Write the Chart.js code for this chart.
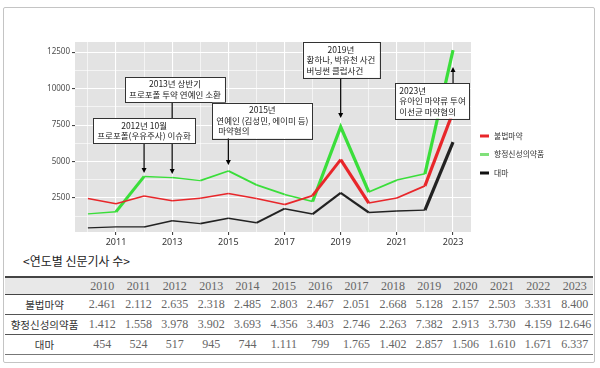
<!DOCTYPE html>
<html>
<head>
<meta charset="utf-8">
<script src="https://cdn.jsdelivr.net/npm/chart.js@4"></script>
<style>
  body { margin: 0; background: #fff; width: 600px; height: 368px; overflow: hidden; position: relative; }
  #frame { position: absolute; left: 3px; top: 7px; width: 590px; height: 354px; border: 1px solid #c4c4c4; border-radius: 2px; }
  #chart { position: absolute; left: 0; top: 0; }
  #title { position: absolute; left: 23px; top: 252px; font: 12px "Noto Sans CJK KR"; color: #222; }
  #tbl { position: absolute; left: 5px; top: 276px; width: 588px; border-collapse: collapse; table-layout: fixed; }
  #tbl td { text-align: center; padding: 0; font: 12px "Liberation Serif", "Noto Sans CJK KR"; color: #666; height: 19px; border-bottom: 1px solid #555; }
  #tbl tr.head td { background-color: #e8e8e8; border-top: 2px solid #444; border-bottom: 1.5px solid #444; height: 16px; }
  #tbl td.name { font: 10.5px "Noto Sans CJK KR"; color: #333; width: 79px; }
  #tbl tr:last-child td { border-bottom: 1px solid #777; }
</style>
</head>
<body>
<div id="frame"></div>
<canvas id="chart" width="600" height="252"></canvas>
<div id="title">&lt;연도별 신문기사 수&gt;</div>
<table id="tbl"></table>
<script>
const years = [2010, 2011, 2012, 2013, 2014, 2015, 2016, 2017, 2018, 2019, 2020, 2021, 2022, 2023];
const seriesNames = ['불법마약', '향정신성의약품', '대마'];
const illegalDrugs = [2461, 2112, 2635, 2318, 2485, 2803, 2467, 2051, 2668, 5128, 2157, 2503, 3331, 8400];
const psychotropics = [1412, 1558, 3978, 3902, 3693, 4356, 3403, 2746, 2263, 7382, 2913, 3730, 4159, 12646];
const cannabis = [454, 524, 517, 945, 744, 1111, 799, 1765, 1402, 2857, 1506, 1610, 1671, 6337];
const yTicks = [1250, 2500, 3750, 5000, 6250, 7500, 8750, 10000, 11250, 12500];

// 주석 박스 (연도, 값 기준)
const notes = [
  { lines: ['2012년 10월', '프로포폴(우유주사) 이슈화'], box: [2012.0, 7123], target: [2012, 4218] },
  { lines: ['2013년 상반기', '프로포폴 투약 연예인 소환'], box: [2013.1, 9945], target: [2013, 4150] },
  { lines: ['2015년', '연예인 (김성민, 에이미 등)', ' 마약혐의'], box: [2016.21, 7819], target: [2015, 4767], left: true, center0: true },
  { lines: ['2019년', '황하나, 박유천 사건', '버닝썬 클럽사건'], box: [2019.01, 11968], target: [2019, 7990], left: true, center0: true },
  { lines: ['2023년', '유아인 마약류 투여', '이선균 마약혐의'], box: [2022.27, 9156], target: [2023, 11488], left: true }
];

const colors = ['#e8262a', '#3ade3a', '#222'];
const legendColors = ['#e8262a', '#80e07a', '#111'];

function pts(vals) { return years.map((y, i) => ({ x: y, y: vals[i] })); }
function segWidth(ctx) { return 1.3 + Math.min(1.9, Math.abs(ctx.p1.parsed.y - ctx.p0.parsed.y) / 1500); }

// 회색 패널 배경
const panelBg = {
  id: 'panelBg',
  beforeDraw(chart) {
    const { ctx, chartArea: a } = chart;
    ctx.save();
    ctx.fillStyle = '#e3e3e3';
    ctx.fillRect(a.left, a.top, a.right - a.left, a.bottom - a.top);
    ctx.restore();
  }
};

const notesPlugin = {
  id: 'notes',
  afterDatasetsDraw(chart) {
    const { ctx, scales: { x, y } } = chart;
    ctx.save();
    ctx.font = '8.5px "Noto Sans CJK KR"';
    const lh = 10.5, padX = 4, padY = 2;
    const boxes = notes.map(n => {
      const w = Math.max(...n.lines.map(l => ctx.measureText(l).width)) + padX * 2;
      const h = n.lines.length * lh + padY * 2;
      const cx = x.getPixelForValue(n.box[0]), cy = y.getPixelForValue(n.box[1]);
      return { n, w, h, l: cx - w / 2, t: cy - h / 2 };
    });
    // 화살표
    boxes.forEach(b => {
      const tx = x.getPixelForValue(b.n.target[0]), ty = y.getPixelForValue(b.n.target[1]);
      const down = ty > b.t + b.h;
      const sy = down ? b.t + b.h : b.t;
      const dir = down ? 1 : -1;
      ctx.strokeStyle = '#000';
      ctx.lineWidth = 1.2;
      ctx.beginPath();
      ctx.moveTo(tx, sy);
      ctx.lineTo(tx, ty - dir * 3);
      ctx.stroke();
      ctx.fillStyle = '#000';
      ctx.beginPath();
      ctx.moveTo(tx, ty);
      ctx.lineTo(tx - 2.5, ty - dir * 5);
      ctx.lineTo(tx + 2.5, ty - dir * 5);
      ctx.closePath();
      ctx.fill();
    });
    // 박스
    boxes.forEach(b => {
      ctx.fillStyle = '#fff';
      ctx.fillRect(b.l, b.t, b.w, b.h);
      ctx.strokeStyle = '#333';
      ctx.lineWidth = 1;
      ctx.strokeRect(Math.round(b.l) + 0.5, Math.round(b.t) + 0.5, Math.round(b.w), Math.round(b.h));
      ctx.fillStyle = '#222';
      ctx.textBaseline = 'middle';
      b.n.lines.forEach((line, i) => {
        const ly = b.t + padY + lh * (i + 0.5);
        if (b.n.left && !(b.n.center0 && i === 0)) {
          ctx.textAlign = 'left';
          ctx.fillText(line, b.l + padX, ly);
        } else {
          ctx.textAlign = 'center';
          ctx.fillText(line, b.l + b.w / 2, ly);
        }
      });
    });
    ctx.restore();
  }
};

const legendPlugin = {
  id: 'sideLegend',
  afterDraw(chart) {
    const { ctx } = chart;
    ctx.save();
    ctx.font = '7.8px "Noto Sans CJK KR"';
    ctx.textBaseline = 'middle';
    ctx.textAlign = 'left';
    seriesNames.forEach((name, i) => {
      const ly = 136 + i * 18.5;
      ctx.strokeStyle = legendColors[i];
      ctx.lineWidth = 3;
      ctx.beginPath();
      ctx.moveTo(480, ly);
      ctx.lineTo(489, ly);
      ctx.stroke();
      ctx.fillStyle = '#333';
      ctx.fillText(name, 494, ly);
    });
    ctx.restore();
  }
};

new Chart(document.getElementById('chart'), {
  type: 'line',
  data: {
    datasets: [illegalDrugs, psychotropics, cannabis].map((vals, i) => ({
      label: seriesNames[i],
      data: pts(vals),
      borderColor: colors[i],
      borderWidth: 1.5,
      pointRadius: 0,
      tension: 0,
      segment: { borderWidth: segWidth }
    }))
  },
  options: {
    responsive: false,
    animation: false,
    devicePixelRatio: 1,
    layout: { padding: { left: 0, top: 42, right: 129, bottom: 0 } },
    plugins: { legend: { display: false }, tooltip: { enabled: false } },
    scales: {
      x: {
        type: 'linear',
        min: 2009.54,
        max: 2023.64,
        afterBuildTicks(s) { s.ticks = years.map(v => ({ value: v })); },
        afterFit(s) { s.height = 20; },
        border: { display: false },
        grid: {
          color: '#fff',
          lineWidth: c => (c.tick && c.tick.value % 2 === 1) ? 1.1 : 0.6,
          tickColor: c => (c.tick && c.tick.value % 2 === 1) ? '#444' : 'rgba(0,0,0,0)',
          tickLength: 3
        },
        ticks: {
          autoSkip: false,
          maxRotation: 0,
          padding: 2,
          color: '#333',
          font: { family: 'Noto Sans', size: 9 },
          callback: v => (v % 2 === 1 ? String(v) : '')
        }
      },
      y: {
        min: 170,
        max: 13200,
        afterBuildTicks(s) { s.ticks = yTicks.map(v => ({ value: v })); },
        afterFit(s) { s.width = 75; },
        border: { display: false },
        grid: {
          color: '#fff',
          lineWidth: c => (c.tick && c.tick.value % 2500 === 0) ? 1.1 : 0.6,
          tickColor: c => (c.tick && c.tick.value % 2500 === 0) ? '#444' : 'rgba(0,0,0,0)',
          tickLength: 3
        },
        ticks: {
          padding: 2,
          color: '#4d4d4d',
          font: { family: 'Noto Sans', size: 8 },
          callback: v => (v % 2500 === 0 ? String(v) : '')
        }
      }
    }
  },
  plugins: [panelBg, notesPlugin, legendPlugin]
});

// 표
function fmt(v) { return String(v).replace(/\B(?=(\d{3})+(?!\d))/g, '.'); }
const tbl = document.getElementById('tbl');
let html = '<tr class="head"><td class="name"></td>' + years.map(y => '<td>' + y + '</td>').join('') + '</tr>';
[illegalDrugs, psychotropics, cannabis].forEach((vals, i) => {
  html += '<tr><td class="name">' + seriesNames[i] + '</td>' + vals.map(v => '<td>' + fmt(v) + '</td>').join('') + '</tr>';
});
tbl.innerHTML = html;
</script>
</body>
</html>
